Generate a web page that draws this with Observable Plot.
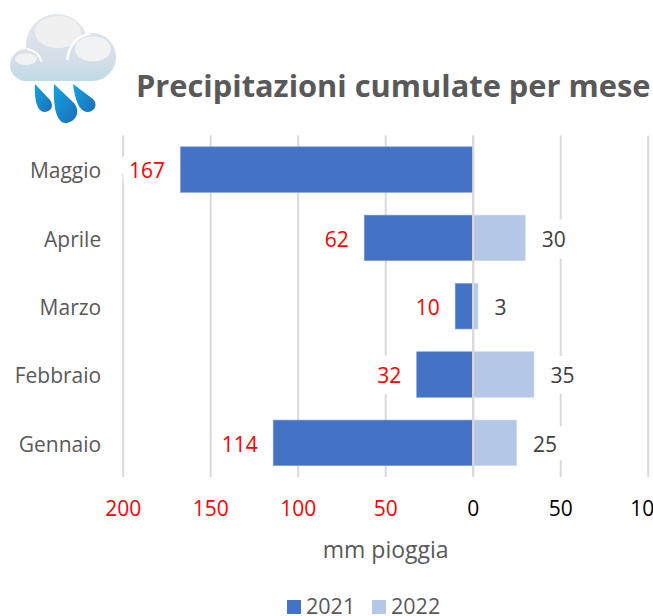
<!DOCTYPE html>
<html><head><meta charset="utf-8">
<script src="https://cdn.jsdelivr.net/npm/d3@7"></script>
<script src="https://cdn.jsdelivr.net/npm/@observablehq/plot@0.6"></script>
<style>
html,body{margin:0;padding:0;background:#fff;overflow:hidden;width:653px;height:616px;font-family:"Open Sans",sans-serif}
#head{position:relative;height:135px}
#head svg{position:absolute;left:0;top:0}
#head h1{position:absolute;left:136px;top:65px;margin:0;font-size:30.8px;line-height:40px;font-weight:700;color:#595959;white-space:nowrap}
#chart svg{display:block}
#legend{position:absolute;left:0;top:594px;width:653px;height:22px;font-size:21.5px;line-height:22px;color:#595959}
#legend i{position:absolute;top:6px;width:14px;height:14px}
#legend span{position:absolute;top:1px}
</style></head><body>
<div id="head">
<svg width="130" height="130" viewBox="0 0 130 130">
<defs>
<linearGradient id="c" gradientUnits="userSpaceOnUse" x1="0" y1="14" x2="0" y2="81"><stop offset="0" stop-color="#e2e7ed"/><stop offset=".7" stop-color="#d4dee8"/><stop offset="1" stop-color="#bddae5"/></linearGradient>
<linearGradient id="d" x1="0" y1="0" x2="1" y2="1"><stop offset="0" stop-color="#12a5e2"/><stop offset="1" stop-color="#1d6db6"/></linearGradient>
</defs>
<g fill="url(#c)">
<circle cx="57" cy="45" r="31"/>
<circle cx="92" cy="57" r="24"/>
<circle cx="26" cy="65" r="16"/>
<rect x="26" y="58" width="66" height="23"/>
</g>
<ellipse cx="58" cy="32" rx="23" ry="16" fill="#f0f0f0"/>
<ellipse cx="93" cy="49" rx="18" ry="12.5" fill="#f1f2f3"/>
<ellipse cx="26" cy="59" rx="11" ry="6" fill="#f1f2f3"/>
<path d="M67.500 60 C68 46 78 35 90 34" fill="none" stroke="#fff" stroke-width="2.500"/>
<path d="M27 49 C34 50 40 55 41.500 62" fill="none" stroke="#fff" stroke-width="2"/>
<path d="M35 84 L50 100 C55 107 50 112 44 112 C37 111 34 100 35 84Z" fill="url(#d)"/>
<path d="M54 84 L74 103 C82 113 74 123 65 123 C56 122 53 106 54 84Z" fill="url(#d)"/>
<path d="M73 84 L93 99 C99 106 93 112 87 112 C79 111 75 100 73 84Z" fill="url(#d)"/>
</svg>
<h1>Precipitazioni cumulate per mese</h1>
</div>
<div id="chart"></div>
<div id="legend"><i style="left:287px;background:#4472c4"></i><span style="left:306px">2021</span><i style="left:372px;background:#b4c7e7"></i><span style="left:391px">2022</span></div>
<script>
const months = ["Maggio","Aprile","Marzo","Febbraio","Gennaio"];
const values2021 = [167,62,10,32,114];
const values2022 = [null,30,3,35,25];
const xTicks = [-200,-150,-100,-50,0,50,100];
const rows = months.map((m,i)=>({m,a:-values2021[i],b:values2022[i]}));
const rows22 = rows.filter(d=>d.b!=null);
const chart = Plot.plot({
  width:653,height:430,marginTop:0.4,marginBottom:88,marginLeft:122.7,marginRight:5.3,
  style:{fontFamily:'"Open Sans",sans-serif',background:"#fff",overflow:"hidden"},
  x:{domain:[-200,100],ticks:xTicks,round:false},
  y:{domain:months,paddingInner:.334,paddingOuter:.167,round:false},
  marks:[
    Plot.ruleX(xTicks,{stroke:"#d9d9d9",strokeWidth:2}),
    Plot.barX(rows,{x1:0,x2:"a",y:"m",fill:"#4472c4",stroke:"#7d9ad4",strokeWidth:.6}),
    Plot.barX(rows22,{x1:0,x2:"b",y:"m",fill:"#b4c7e7",stroke:"#c6d5ee",strokeWidth:.6}),
    Plot.ruleX([0],{stroke:"#d9d9d9",strokeWidth:2}),
    Plot.text(rows,{x:"a",y:"m",text:d=>Math.abs(d.a),dx:-16,dy:1.5,textAnchor:"end",fill:"#ff0000",fontSize:21,stroke:"#fff",strokeWidth:23,paintOrder:"stroke"}),
    Plot.text(rows22,{x:"b",y:"m",text:"b",dx:16,dy:1.5,textAnchor:"start",fill:"#404040",fontSize:21,stroke:"#fff",strokeWidth:23,paintOrder:"stroke"}),
    Plot.axisY({tickSize:0,tickPadding:22,fontSize:21,label:null,fill:"#595959",dy:1.5}),
    Plot.axisX({ticks:xTicks,anchor:"bottom",tickSize:0,tickPadding:24,fontSize:21,label:null,
      tickFormat:d=>Math.abs(d),fill:d=>d<0?"#ff0000":"#000000"}),
    Plot.text(["mm pioggia"],{frameAnchor:"bottom",dy:80,fontSize:23,letterSpacing:1,fill:"#595959",x:-50})
  ]
});
document.getElementById("chart").append(chart);
</script>
</body></html>
